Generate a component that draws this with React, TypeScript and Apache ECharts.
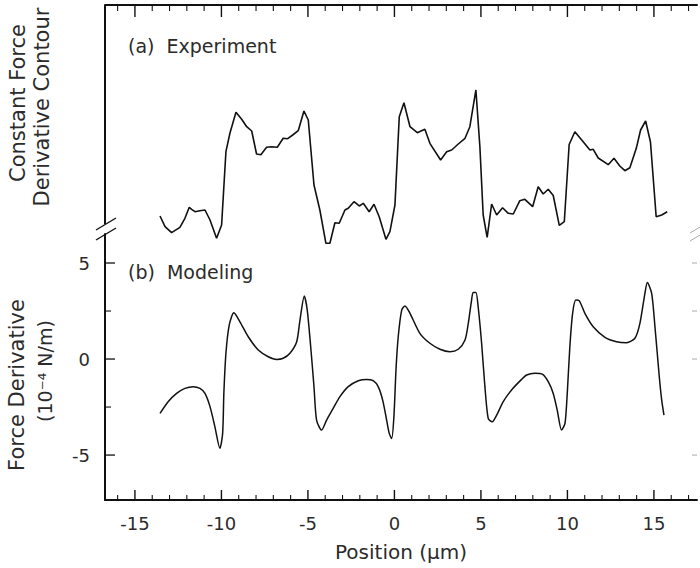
import React, { useEffect, useRef } from "react";
import * as echarts from "echarts";

// (a) Experiment: constant force derivative contour (arbitrary units)
const expX = [-13.55, -13.26, -12.88, -12.4, -12.11, -11.86, -11.72, -11.53, -11.24, -10.95, -10.66, -10.28, -9.99, -9.74, -9.51, -9.16, -8.83, -8.54, -8.25, -7.97, -7.72, -7.39, -7.1, -6.77, -6.43, -6.17, -5.88, -5.56, -5.23, -4.98, -4.65, -4.31, -3.96, -3.73, -3.44, -3.19, -2.86, -2.67, -2.34, -2.03, -1.8, -1.46, -1.18, -0.88, -0.49, -0.26, 0.03, 0.28, 0.55, 0.9, 1.32, 1.76, 2.05, 2.67, 3.02, 3.31, 3.69, 4.08, 4.36, 4.71, 4.94, 5.13, 5.36, 5.62, 5.91, 6.25, 6.58, 6.87, 7.25, 7.54, 7.99, 8.31, 8.6, 8.89, 9.18, 9.53, 9.82, 10.1, 10.43, 10.91, 11.3, 11.49, 11.78, 12.36, 12.69, 13.03, 13.32, 13.61, 13.98, 14.23, 14.52, 14.8, 15.13, 15.45, 15.77];
const expY = [17.25, 13.06, 10.71, 12.82, 16.35, 20.67, 19.88, 18.94, 19.33, 19.61, 15.69, 8.51, 13.73, 42.47, 49.69, 57.92, 55.18, 52.27, 50.59, 41.57, 41.29, 44.2, 44.43, 44.2, 47.73, 47.57, 49.02, 50.71, 58.43, 54.9, 29.41, 19.61, 6.55, 6.55, 14.63, 14.39, 19.61, 20.27, 22.86, 21.18, 22.24, 18.94, 21.84, 16.98, 8.12, 11.1, 21.57, 56.2, 61.69, 52.27, 49.92, 51.25, 45.76, 39.22, 42.47, 43.14, 45.49, 47.73, 52.27, 66.67, 44.43, 17.65, 8.9, 21.96, 17.65, 20.51, 18.31, 18.04, 23.25, 23.8, 20.9, 28.75, 25.88, 27.73, 25.29, 13.61, 15.02, 45.29, 50.31, 46.39, 43.14, 43.41, 40.0, 37.37, 39.88, 36.86, 35.02, 36.2, 43.8, 50.98, 54.51, 46.27, 16.98, 17.65, 18.94];

// (b) Modeling: force derivative (10^-4 N/m)
const modX = [-13.55, -13.08, -12.59, -12.11, -11.63, -11.24, -10.95, -10.66, -10.38, -10.09, -9.93, -9.86, -9.74, -9.55, -9.28, -8.93, -8.45, -7.87, -7.29, -6.81, -6.43, -6.04, -5.65, -5.46, -5.21, -5.04, -4.84, -4.65, -4.5, -4.21, -3.92, -3.54, -3.15, -2.67, -2.09, -1.61, -1.23, -0.94, -0.68, -0.45, -0.3, -0.16, -0.03, 0.09, 0.22, 0.42, 0.61, 0.9, 1.47, 2.05, 2.63, 3.21, 3.69, 4.08, 4.27, 4.46, 4.55, 4.71, 4.84, 5.04, 5.23, 5.42, 5.65, 5.91, 6.29, 6.77, 7.35, 7.64, 8.12, 8.57, 8.89, 9.18, 9.41, 9.66, 9.86, 9.99, 10.14, 10.3, 10.49, 10.68, 11.01, 11.49, 12.17, 12.84, 13.42, 13.9, 14.19, 14.48, 14.62, 14.87, 15.06, 15.31, 15.45, 15.58];
const modY = [-2.83, -2.22, -1.79, -1.53, -1.44, -1.53, -1.79, -2.48, -3.52, -4.65, -3.87, -1.79, 0.3, 1.77, 2.41, 1.94, 1.16, 0.47, 0.12, -0.02, 0.04, 0.3, 0.9, 2.03, 3.28, 2.55, 0.64, -1.44, -3.18, -3.7, -3.18, -2.57, -1.96, -1.44, -1.13, -1.06, -1.13, -1.44, -2.14, -3.18, -3.87, -4.14, -3.01, -0.57, 1.16, 2.55, 2.76, 2.38, 1.34, 0.82, 0.51, 0.38, 0.51, 0.99, 1.86, 3.07, 3.47, 3.47, 2.72, 0.82, -1.44, -3.09, -3.27, -2.92, -2.22, -1.61, -1.06, -0.83, -0.74, -0.8, -1.18, -1.79, -2.66, -3.7, -3.35, -1.79, 0.64, 2.38, 3.07, 3.04, 2.38, 1.68, 1.13, 0.9, 0.85, 1.08, 1.86, 3.42, 3.98, 3.42, 1.68, -0.92, -2.14, -2.92];

const xMajorTicks = [-15, -10, -5, 0, 5, 10, 15];
const xMinorTicks = [-16, -14, -13, -12, -11, -9, -8, -7, -6, -4, -3, -2, -1, 1, 2, 3, 4, 6, 7, 8, 9, 11, 12, 13, 14, 16, 17];
const yMajorTicks = [-5, 0, 5];
const yMinorTicks = [-2.5, 2.5];
const yRightTicks = [-5, 0, 2.5, 5];

const panelALabel = "(a)  Experiment";
const panelBLabel = "(b)  Modeling";
const topYName1 = "Constant Force";
const topYName2 = "Derivative Contour";
const botYName1 = "Force Derivative";
const botYName2 = "(10\u207B\u2074 N/m)";
const xName = "Position (\u03BCm)";

const X_MIN = -16.73;
const X_MAX = 17.49;
const YB_MIN = -7.34;
const YB_MAX = 6.51;
const YA_MIN = 0;
const YA_MAX = 100;
const FONT = "DejaVu Sans";
const INK = "#111";
const TXT = "#2b2b2b";

export default function App() {
  const ref = useRef<HTMLDivElement>(null);
  useEffect(() => {
    if (!ref.current) return;
    const chart = echarts.init(ref.current, undefined, { renderer: "svg" });
    const expData = expX.map((x, i) => [x, expY[i]]);
    const modData = modX.map((x, i) => [x, modY[i]]);
    const hidden = { show: false };
    const baseGraphic: any[] = [
      { type: "line", shape: { x1: 105, y1: 5, x2: 105, y2: 224 }, style: { stroke: INK, lineWidth: 2 } },
      { type: "line", shape: { x1: 96, y1: 230, x2: 116, y2: 218 }, style: { stroke: INK, lineWidth: 1.4 } },
      { type: "line", shape: { x1: 96, y1: 240, x2: 116, y2: 228 }, style: { stroke: INK, lineWidth: 1.4 } },
      { type: "line", shape: { x1: 690, y1: 233, x2: 700, y2: 227 }, style: { stroke: "#aaa", lineWidth: 1 } },
      { type: "line", shape: { x1: 690, y1: 241, x2: 700, y2: 235 }, style: { stroke: "#aaa", lineWidth: 1 } },
      { type: "text", x: 128, y: 46, style: { text: panelALabel, font: `19px "${FONT}"`, fill: TXT, verticalAlign: "middle", align: "left" } },
      { type: "text", x: 128, y: 272, style: { text: panelBLabel, font: `19px "${FONT}"`, fill: TXT, verticalAlign: "middle", align: "left" } },
      { type: "text", x: 18, y: 103, rotation: Math.PI / 2, style: { text: topYName1, font: `21px "${FONT}"`, fill: TXT, align: "center", verticalAlign: "middle" } },
      { type: "text", x: 42, y: 107, rotation: Math.PI / 2, style: { text: topYName2, font: `21px "${FONT}"`, fill: TXT, align: "center", verticalAlign: "middle" } },
      { type: "text", x: 17, y: 385, rotation: Math.PI / 2, style: { text: botYName1, font: `21px "${FONT}"`, fill: TXT, align: "center", verticalAlign: "middle" } },
      { type: "text", x: 45, y: 371, rotation: Math.PI / 2, style: { text: botYName2, font: `19px "${FONT}"`, fill: TXT, align: "center", verticalAlign: "middle" } },
    ];
    const option: any = {
      animation: false,
      backgroundColor: "#fff",
      textStyle: { fontFamily: FONT },
      grid: [
        { left: 105, right: 3, top: 5, bottom: 308 },
        { left: 105, right: 3, top: 234, bottom: 68 },
      ],
      xAxis: [
        {
          type: "value", gridIndex: 1, position: "bottom", min: X_MIN, max: X_MAX,
          axisLine: { show: true, onZero: false, lineStyle: { color: INK, width: 2 } },
          axisTick: hidden,
          axisLabel: { show: true, customValues: xMajorTicks, margin: 14, fontSize: 18, color: TXT, fontFamily: FONT, formatter: (v: number) => String(v) },
          splitLine: hidden,
          name: xName, nameLocation: "middle", nameGap: 42,
          nameTextStyle: { fontSize: 20, color: TXT, fontFamily: FONT },
        },
        {
          type: "value", gridIndex: 0, position: "top", min: X_MIN, max: X_MAX,
          axisLine: { show: true, onZero: false, lineStyle: { color: INK, width: 2 } },
          axisTick: hidden, axisLabel: hidden, splitLine: hidden,
        },
      ],
      yAxis: [
        {
          type: "value", gridIndex: 0, min: YA_MIN, max: YA_MAX,
          axisLine: { show: false, onZero: false }, axisTick: hidden, axisLabel: hidden, splitLine: hidden,
        },
        {
          type: "value", gridIndex: 1, position: "left", min: YB_MIN, max: YB_MAX,
          axisLine: { show: true, onZero: false, lineStyle: { color: INK, width: 2 } },
          axisTick: hidden,
          axisLabel: { show: true, customValues: yMajorTicks, margin: 15, fontSize: 18, color: TXT, fontFamily: FONT, formatter: (v: number) => String(v) },
          splitLine: hidden,
        },
      ],
      series: [
        {
          type: "line", id: "exp", name: "Experiment", xAxisIndex: 1, yAxisIndex: 0, data: expData,
          showSymbol: false, symbol: "none", smooth: false,
          lineStyle: { color: INK, width: 1.6 },
        },
        {
          type: "line", id: "mod", name: "Modeling", xAxisIndex: 0, yAxisIndex: 1, data: modData,
          showSymbol: false, symbol: "none", smooth: 0.25,
          lineStyle: { color: INK, width: 1.5 },
        },
      ],
      graphic: baseGraphic,
    };
    chart.setOption(option);

    // tick marks (thin filled bars) placed through the axes' own scales
    const toPx = (seriesIndex: number, pt: number[]) =>
      chart.convertToPixel({ seriesIndex } as any, pt) as unknown as number[];
    const ticks: any[] = [];
    const addX = (vals: number[], si: number, edge: number, len: number, w: number, color: string) =>
      vals.forEach((v) => {
        const p = toPx(si, [v, edge]);
        if (!p || isNaN(p[0]) || isNaN(p[1])) return;
        const y0 = Math.round(p[1]) + (len < 0 ? len : 0);
        ticks.push({ type: "rect", shape: { x: p[0] - w / 2, y: y0, width: w, height: Math.abs(len) }, style: { fill: color } });
      });
    const addY = (vals: number[], si: number, edge: number, len: number, w: number, color: string) =>
      vals.forEach((v) => {
        const p = toPx(si, [edge, v]);
        if (!p || isNaN(p[0]) || isNaN(p[1])) return;
        const x0 = Math.round(p[0]) + (len < 0 ? len : 0);
        ticks.push({ type: "rect", shape: { x: x0, y: p[1] - w / 2, width: Math.abs(len), height: w }, style: { fill: color } });
      });
    addY(yRightTicks, 1, X_MAX, -5, 1, "#aaa");
    addX(xMajorTicks, 1, YB_MIN, -10, 1.4, INK);
    addX(xMinorTicks, 1, YB_MIN, -5, 1.1, INK);
    addX(xMajorTicks, 0, YA_MAX, 12, 1.4, INK);
    addX(xMinorTicks, 0, YA_MAX, 6, 1.1, INK);
    addY(yMajorTicks, 1, X_MIN, 10, 1.3, INK);
    addY(yMinorTicks, 1, X_MIN, 6, 1.1, INK);
    chart.setOption({ graphic: [...baseGraphic, ...ticks] });

    return () => chart.dispose();
  }, []);
  return (
    <div
      ref={ref}
      style={{ position: "fixed", left: 0, top: 0, width: 700, height: 568, background: "#fff" }}
    />
  );
}
